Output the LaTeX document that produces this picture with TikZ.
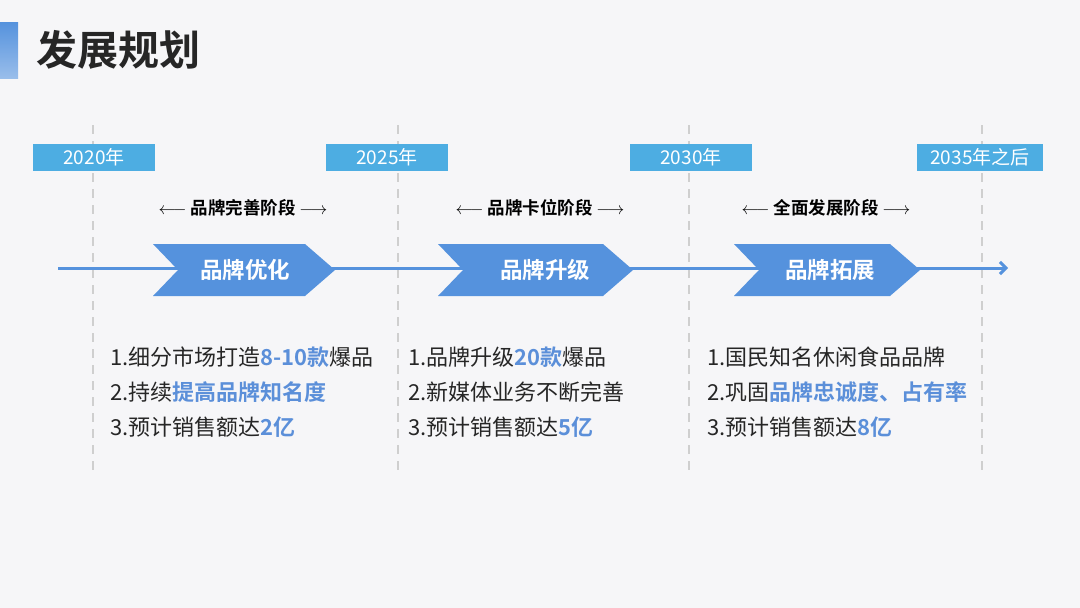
\documentclass[tikz,border=0pt]{standalone}
\usepackage{fontspec}
\setmainfont{Noto Sans CJK SC}
\newfontfamily\cjkb{Noto Sans CJK SC Bold}
\usetikzlibrary{arrows.meta}
\definecolor{bg}{HTML}{F6F6F8}
\definecolor{yr}{HTML}{4DADE2}
\definecolor{chev}{HTML}{5592DD}
\definecolor{hl}{HTML}{5B8FD9}
\definecolor{dash}{HTML}{CFCFCF}
\newcommand{\hlt}[1]{{\cjkb\color{hl}#1}}
\begin{document}
\begin{tikzpicture}[x=1pt,y=-1pt,
  yearbox/.style={fill=yr,text=white,minimum width=122pt,minimum height=27pt,inner sep=0pt,font=\fontsize{19}{19}\selectfont},
  stagelbl/.style={font=\cjkb\fontsize{17.5}{17.5}\selectfont,text=black},
  chevlbl/.style={font=\cjkb\fontsize{22.5}{22.5}\selectfont,text=white},
  body/.style={anchor=west,font=\fontsize{22}{22}\selectfont,text=black!85,inner sep=0pt},
  vdash/.style={draw=dash,line width=1.6pt,dash pattern=on 9pt off 7pt},
  chevfill/.style={fill=chev}]
\fill[bg] (0,0) rectangle (1080,608);
\useasboundingbox (0,0) rectangle (1080,608);
\shade[top color=chev, bottom color=chev!60] (0,22) rectangle (18,78);
\node[anchor=west,font=\cjkb\fontsize{41}{41}\selectfont,text=black!85] (title) at (33,50) {发展规划};
\foreach \x in {93,398,689,982} \draw[vdash] (\x,125) -- (\x,470);
\node[yearbox] (y1) at (94,157) {2020年};
\node[yearbox] (y2) at (387,157) {2025年};
\node[yearbox] (y3) at (691,157) {2030年};
\node[yearbox,minimum width=126pt] (y4) at (980,157) {2035年之后};
\node[stagelbl] (s1) at (243,208) {$\longleftarrow$ 品牌完善阶段 $\longrightarrow$};
\node[stagelbl] (s2) at (540,208) {$\longleftarrow$ 品牌卡位阶段 $\longrightarrow$};
\node[stagelbl] (s3) at (826,208) {$\longleftarrow$ 全面发展阶段 $\longrightarrow$};
\coordinate (ls) at (58,268);
\coordinate (le) at (1008,268);
\draw[chev,line width=3pt,-{Straight Barb[length=6pt,width=12pt]}] (ls) -- (le);
\fill[chevfill] (153,244) -- (305,244) -- (335,270) -- (305,296) -- (153,296) -- (178,270) -- cycle;
\fill[chevfill] (438,244) -- (603,244) -- (633,270) -- (603,296) -- (438,296) -- (463,270) -- cycle;
\fill[chevfill] (734,244) -- (890,244) -- (920,270) -- (890,296) -- (734,296) -- (759,270) -- cycle;
\node[chevlbl] (c1) at (245,270) {品牌优化};
\node[chevlbl] (c2) at (545,270) {品牌升级};
\node[chevlbl] (c3) at (830,270) {品牌拓展};
\node[body] (a1) at (110,357) {1.细分市场打造\hlt{8-10款}爆品};
\node[body] (a2) at (110,392) {2.持续\hlt{提高品牌知名度}};
\node[body] (a3) at (110,427) {3.预计销售额达\hlt{2亿}};
\node[body] (b1) at (408,357) {1.品牌升级\hlt{20款}爆品};
\node[body] (b2) at (408,392) {2.新媒体业务不断完善};
\node[body] (b3) at (408,427) {3.预计销售额达\hlt{5亿}};
\node[body] (d1) at (707,357) {1.国民知名休闲食品品牌};
\node[body] (d2) at (707,392) {2.巩固\hlt{品牌忠诚度、占有率}};
\node[body] (d3) at (707,427) {3.预计销售额达\hlt{8亿}};
\end{tikzpicture}
\end{document}
